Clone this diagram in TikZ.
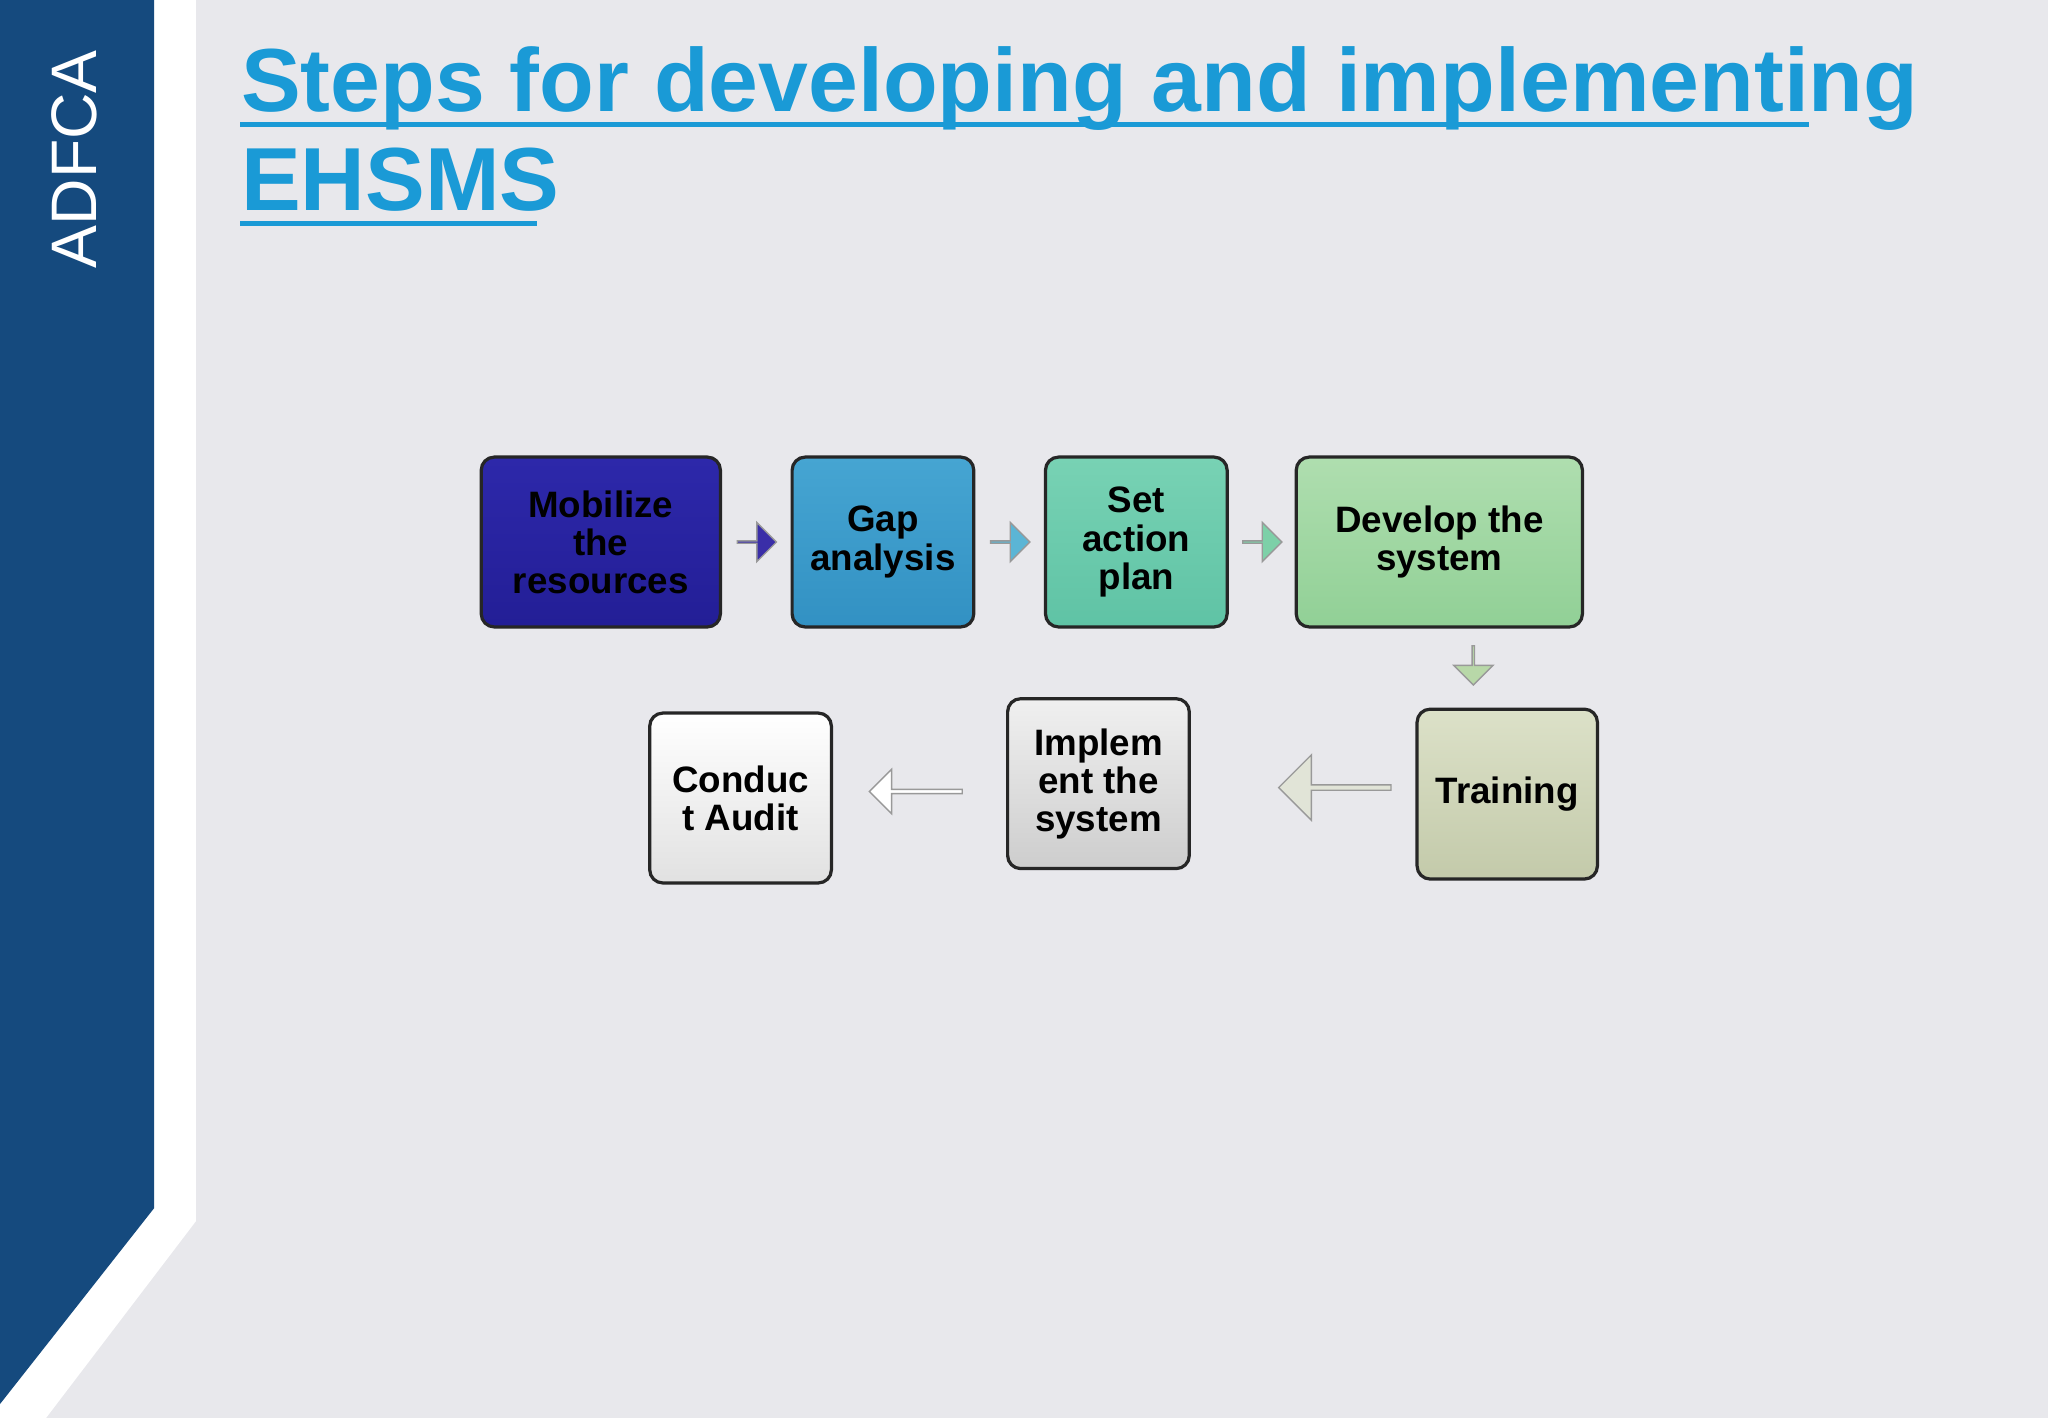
\documentclass[tikz,border=0pt]{standalone}
\usepackage{fontspec}
\setmainfont{Liberation Sans}
\usetikzlibrary{shapes.arrows,calc}
\definecolor{bg}{HTML}{E8E8EC}
\definecolor{side}{HTML}{154A7E}
\definecolor{ttl}{HTML}{1A9AD6}
\begin{document}
\begin{tikzpicture}[x=0.01cm,y=-0.01cm,
 box/.style={draw=black!85,line width=0.7pt,rounded corners=0.1cm,align=center,
   font=\fontsize{8}{8.3}\selectfont\bfseries,minimum height=1.3cm,inner sep=1pt},
 arr/.style={single arrow,draw=black!40,line width=0.3pt,single arrow head extend=0.08cm,inner sep=0pt,minimum height=0.3cm,minimum width=0.3cm}]
\fill[bg] (0,0) rectangle (1568,1086);
\useasboundingbox (0,0) rectangle (1568,1086);
\fill[white] (118,0) -- (150,0) -- (150,935) -- (35,1086) -- (0,1086) -- (0,0) -- cycle;
\fill[side] (0,0) -- (118,0) -- (118,925) -- (0,1075) -- cycle;
\node[rotate=90,text=white,font=\fontsize{14}{14}\selectfont] (logo) at (57,122) {ADFCA};
\node[anchor=base west,text=ttl,font=\fontsize{19.5}{20}\selectfont\bfseries,inner sep=0] (t1) at (184,85) {Steps for developing and implementing};
\node[anchor=base west,text=ttl,font=\fontsize{19.5}{20}\selectfont\bfseries,inner sep=0] (t2) at (184,161) {EHSMS};
\draw[ttl,line width=1.1pt] (t1.base west)++(0,10) -- ++(1201,0);
\draw[ttl,line width=1.1pt] (t2.base west)++(0,10) -- ++(227,0);
\node[box,minimum width=1.83cm,top color={rgb,255:red,45;green,40;blue,170},bottom color={rgb,255:red,35;green,30;blue,150}] (b1) at (460,415) {Mobilize\\the\\resources};
\node[box,minimum width=1.39cm,top color={rgb,255:red,70;green,165;blue,210},bottom color={rgb,255:red,50;green,145;blue,195}] (b2) at (676,415) {Gap\\analysis};
\node[box,minimum width=1.39cm,top color={rgb,255:red,120;green,210;blue,180},bottom color={rgb,255:red,95;green,195;blue,165}] (b3) at (870,415) {Set\\action\\plan};
\node[box,minimum width=2.19cm,top color={rgb,255:red,175;green,222;blue,175},bottom color={rgb,255:red,145;green,208;blue,150}] (b4) at (1102,415) {Develop the\\system};
\node[box,minimum width=1.38cm,top color={rgb,255:red,220;green,225;blue,200},bottom color={rgb,255:red,195;green,202;blue,170}] (b5) at (1154,608) {Training};
\node[box,minimum width=1.39cm,top color={rgb,255:red,240;green,240;blue,240},bottom color={rgb,255:red,205;green,205;blue,205}] (b6) at (841,600) {Implem\\ent the\\system};
\node[box,minimum width=1.39cm,top color=white,bottom color={rgb,255:red,225;green,225;blue,225}] (b7) at (567,611) {Conduc\\t Audit};
\node[arr,fill={rgb,255:red,58;green,46;blue,168}] (a1) at ($(b1.east)!0.5!(b2.west)$) {};
\node[arr,fill={rgb,255:red,91;green,181;blue,213}] (a2) at ($(b2.east)!0.5!(b3.west)$) {};
\node[arr,fill={rgb,255:red,125;green,208;blue,168}] (a3) at ($(b3.east)!0.5!(b4.west)$) {};
\node[arr,rotate=-90,fill={rgb,255:red,184;green,216;blue,168}] (a4) at (1128,509) {};
\node[arr,shape border rotate=180,minimum height=0.86cm,minimum width=0.5cm,single arrow head extend=0.06cm,fill={rgb,255:red,225;green,228;blue,215}] (a5) at (1023,603) {};
\node[arr,shape border rotate=180,minimum height=0.71cm,minimum width=0.34cm,single arrow head extend=0.05cm,fill=white] (a6) at (702,606) {};
\end{tikzpicture}
\end{document}
